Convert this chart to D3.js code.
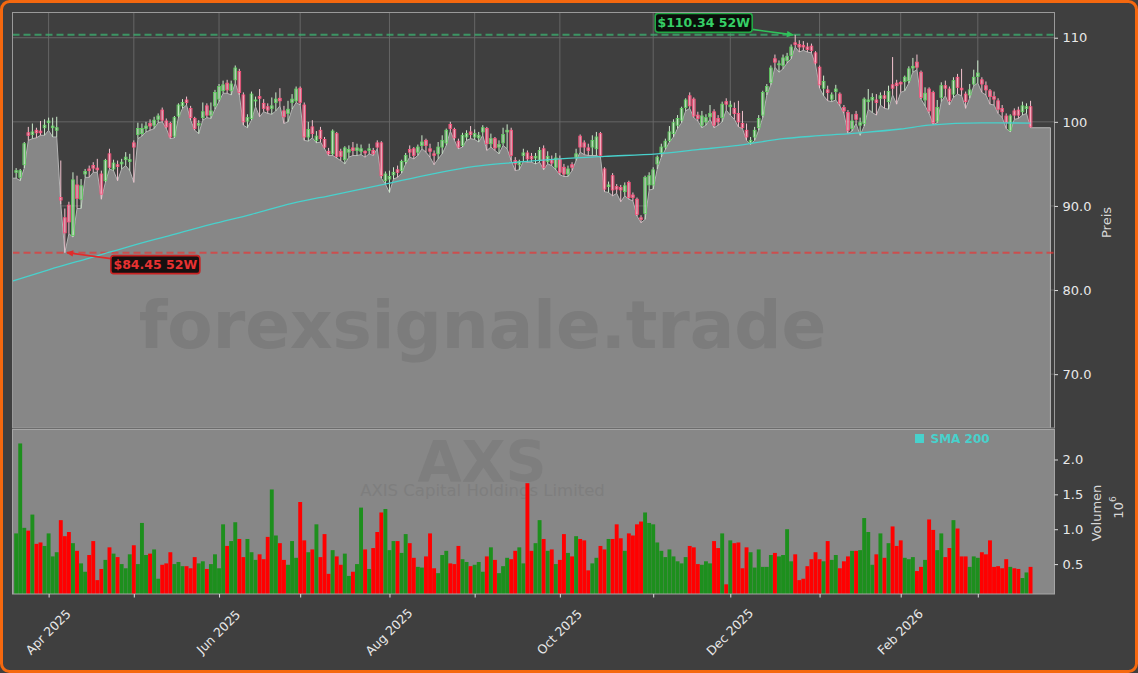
<!DOCTYPE html>
<html><head><meta charset="utf-8">
<script src="https://cdn.jsdelivr.net/npm/d3@7"></script>
<style>
html,body{margin:0;padding:0;background:#3f3f3f;}
svg{display:block;font-family:"DejaVu Sans",sans-serif;}
</style></head><body>
<svg id="chart" width="1138" height="673"></svg>
<script>
// ---------------- DATA ----------------
// trading-day index of first candle (0 = 1 Apr 2025)
const firstIdx = -8;
const opens = [
94.0,93.4,94.9,98.7,98.5,99.0,98.9,99.3,99.9,99.3,
99.0,91.0,88.6,90.1,86.5,92.5,90.8,93.8,94.4,94.8,
94.5,93.8,93.0,96.2,94.4,94.9,95.0,95.5,95.3,97.5,
98.5,98.6,99.2,99.8,99.6,100.3,101.4,100.1,99.8,98.3,
100.7,101.9,102.6,101.6,100.4,99.6,100.5,101.9,100.8,101.9,
102.7,103.7,104.6,103.7,105.0,106.0,103.2,100.1,100.4,102.5,
103.0,102.2,101.8,101.6,102.3,102.8,101.3,101.0,102.3,102.5,
104.0,102.0,98.2,99.4,97.8,99.0,97.9,96.5,96.2,98.6,
96.5,95.5,96.4,96.9,96.6,96.5,96.5,96.6,96.6,97.5,
97.5,93.0,93.2,93.7,94.3,94.2,95.3,96.7,96.8,96.4,
97.2,97.8,96.8,96.2,96.2,97.0,97.5,99.7,99.1,97.7,
97.2,98.2,98.8,98.2,98.1,98.8,99.2,97.4,98.0,97.0,
97.5,98.8,99.0,95.4,94.9,96.0,96.3,95.9,95.7,95.4,
96.8,95.3,95.5,94.6,95.6,94.6,93.8,94.9,95.8,98.3,
97.5,96.9,97.0,96.8,98.6,94.4,92.3,93.6,92.3,92.2,
91.7,92.8,91.3,90.8,88.6,89.1,92.5,92.5,95.0,96.3,
97.0,97.8,98.6,99.6,100.2,101.7,103.1,102.7,100.8,99.6,
100.0,100.6,101.2,100.4,100.5,102.4,101.8,101.6,101.0,99.8,
99.0,97.5,98.2,99.3,100.8,103.6,104.7,107.5,106.8,106.7,
107.3,107.9,109.4,109.2,109.1,108.9,109.0,108.2,106.5,104.0,
103.8,102.7,103.6,103.3,101.7,101.1,99.2,100.9,99.6,99.8,
102.4,102.6,102.6,102.8,103.1,102.4,104.4,104.6,104.7,104.8,
104.9,106.4,107.1,105.9,102.6,103.9,103.5,100.1,102.9,104.3,
103.9,103.3,105.3,104.0,103.3,103.2,104.5,105.4,105.0,104.3,
103.7,103.0,102.5,101.6,100.7,99.0,101.3,101.4,101.2,101.6,
101.8];
const highs = [
94.5,94.4,97.6,99.4,99.8,99.3,100.1,100.3,100.5,100.5,
100.6,95.4,89.7,90.5,94.0,93.6,93.2,94.4,94.8,95.2,
95.6,94.2,95.6,96.8,95.5,95.4,95.6,96.4,96.2,97.8,
99.9,99.8,100.0,100.3,100.6,101.0,101.7,100.4,100.0,100.7,
102.2,102.7,103.0,101.9,100.6,100.2,102.3,102.2,102.3,103.8,
104.5,104.9,105.0,104.9,106.7,106.3,103.5,100.9,103.6,103.0,
103.9,102.7,102.2,102.9,103.5,104.0,101.9,102.5,103.3,104.2,
104.2,102.3,100.0,100.2,98.9,99.4,98.2,96.9,99.1,98.8,
96.8,97.1,97.2,97.6,97.4,97.3,96.6,97.4,96.9,97.8,
97.7,94.1,94.2,94.6,94.8,95.5,96.3,97.2,97.0,97.3,
98.4,98.0,97.4,96.6,97.6,98.4,99.2,100.0,99.3,98.0,
98.7,99.0,99.5,99.1,98.8,99.6,99.4,98.6,98.2,97.8,
99.3,99.7,99.3,95.8,95.5,96.8,96.6,96.3,96.3,97.0,
97.2,96.5,96.0,96.3,96.0,95.0,94.8,95.2,96.8,98.5,
97.8,97.4,98.4,98.8,98.8,94.6,92.9,93.9,92.6,92.5,
92.8,93.0,91.6,91.0,88.9,93.6,94.0,94.6,96.0,97.4,
98.0,99.5,100.3,100.8,101.8,102.8,103.5,102.9,101.2,101.3,
100.9,102.0,101.5,100.8,102.4,102.8,102.5,102.3,102.5,101.3,
99.8,98.2,99.4,100.8,103.7,104.5,106.7,108.0,107.3,108.0,
108.2,109.2,110.34,109.7,109.6,109.4,109.3,108.4,106.7,105.5,
104.3,103.5,104.4,103.5,102.0,101.4,100.9,101.3,100.5,102.9,
103.9,103.4,103.3,103.5,103.7,104.3,107.7,105.0,104.8,105.5,
106.6,107.6,108.0,106.1,104.1,104.1,103.7,102.6,104.7,104.9,
104.2,105.3,105.7,106.3,103.6,104.5,106.2,107.3,105.3,104.8,
103.9,103.6,102.8,102.0,101.0,100.9,101.6,101.8,102.4,102.2,
102.5];
const lows = [
93.3,93.0,94.5,97.8,98.0,98.1,98.4,98.4,99.0,98.2,
98.2,90.2,84.45,86.7,86.3,89.7,89.7,93.4,93.4,94.0,
94.0,90.8,92.8,94.4,94.2,93.0,94.4,94.8,94.2,92.8,
98.0,98.3,98.8,99.0,99.2,99.9,100.0,99.2,98.0,98.1,
100.5,101.6,102.0,100.2,99.0,98.6,100.2,100.5,100.4,101.5,
102.4,103.4,103.4,103.2,104.6,103.2,99.6,99.3,100.2,101.8,
100.6,101.2,101.0,100.9,101.3,101.9,99.8,100.0,101.5,102.3,
102.0,97.8,97.7,98.1,97.5,97.6,96.8,96.0,96.0,95.7,
95.4,95.0,95.8,96.0,96.0,96.1,95.8,96.2,96.0,96.8,
93.3,92.6,91.6,93.2,93.4,93.9,95.0,95.8,95.6,96.0,
96.8,96.4,95.8,94.9,95.6,96.2,97.2,98.9,97.8,96.8,
97.0,97.8,98.0,97.9,97.6,98.4,96.6,97.0,96.6,96.2,
97.2,96.8,95.4,94.2,94.3,95.3,95.2,95.2,95.0,95.2,
94.3,95.0,94.8,94.3,93.7,93.5,93.5,94.2,95.4,96.4,
96.1,96.0,96.0,96.0,95.8,91.7,91.6,91.2,91.5,90.5,
91.2,90.8,90.6,88.8,88.0,88.4,91.9,92.0,94.4,95.8,
96.7,97.6,98.2,99.2,99.9,101.3,101.6,100.5,100.1,99.3,
99.6,100.3,99.3,99.6,100.0,101.4,100.8,100.3,99.4,99.2,
97.8,97.3,97.8,99.0,100.5,103.2,104.4,106.5,105.9,106.3,
107.0,107.5,108.9,108.3,108.5,108.3,108.2,106.8,104.0,103.1,
102.5,102.4,102.6,101.9,101.0,98.6,98.9,99.8,98.4,99.5,
101.5,101.1,100.8,102.0,101.6,101.5,103.2,102.1,103.5,103.7,
104.6,105.9,106.2,102.7,101.9,101.0,99.7,99.9,102.4,103.1,
102.0,102.9,103.3,103.1,101.6,102.8,104.3,104.6,103.5,103.2,
102.1,102.0,101.0,100.5,99.2,98.8,100.3,100.4,100.8,101.0,
99.3];
const closes = [
94.2,94.2,97.4,98.4,98.8,98.7,98.7,99.6,100.1,99.5,
99.3,90.7,86.8,88.1,93.1,90.9,92.4,94.1,94.2,94.5,
94.3,91.4,95.4,94.6,95.1,94.7,95.2,95.8,95.5,97.0,
99.2,99.2,99.5,99.5,100.2,100.7,100.2,99.4,98.2,100.5,
102.0,102.3,102.3,100.5,99.2,99.8,101.2,100.8,101.3,103.5,
104.2,104.4,103.8,104.5,106.4,103.5,100.0,100.5,103.3,102.6,
102.8,101.6,101.4,101.9,102.7,102.5,100.6,101.5,102.7,103.9,
102.3,98.2,99.1,98.6,98.3,98.0,97.0,96.2,98.9,95.9,
95.9,96.9,96.7,96.6,96.9,96.8,96.3,96.8,96.2,97.0,
93.6,93.8,93.5,94.0,94.0,95.3,96.0,96.4,96.0,97.0,
97.6,97.2,96.5,96.0,97.0,97.8,99.0,99.2,98.1,97.0,
98.4,98.6,98.5,98.6,98.4,99.3,97.4,98.0,96.9,97.3,
98.5,99.0,96.0,95.0,95.3,96.3,95.6,95.6,95.9,96.6,
94.6,95.9,95.1,95.7,94.0,93.8,94.4,94.6,96.2,97.0,
97.0,96.6,97.8,98.2,96.0,92.0,92.5,91.9,92.0,91.9,
92.4,91.0,91.0,89.0,88.4,93.4,93.6,94.3,95.8,97.0,
97.7,98.8,99.9,100.4,101.6,102.6,101.9,100.7,100.4,100.7,
100.5,101.0,99.6,100.0,102.1,102.1,102.0,101.0,100.0,99.3,
98.2,97.8,99.0,100.4,103.5,104.2,106.4,107.1,106.9,107.6,
107.8,108.9,109.2,108.9,108.9,108.6,108.5,107.0,104.4,104.8,
103.5,103.2,103.9,102.2,101.3,99.0,100.1,100.3,99.9,102.7,
102.6,102.9,102.3,103.1,102.8,103.6,104.0,104.3,104.5,105.3,
106.3,106.6,106.5,102.9,103.4,101.3,99.9,101.7,104.3,104.0,
102.5,104.9,104.1,103.8,102.4,103.8,105.3,105.8,104.5,103.8,
103.0,102.7,101.5,101.2,99.9,100.7,100.8,100.8,101.9,101.8,
99.4];
// volume in millions
const volumes = [
0.94,2.23,1.02,0.98,1.21,0.79,0.81,0.76,0.94,0.61,
0.67,1.13,0.90,0.96,0.80,0.69,0.51,0.39,0.63,0.83,
0.27,0.43,0.56,0.74,0.65,0.60,0.50,0.44,0.64,0.77,
0.50,1.09,0.63,0.65,0.71,0.29,0.49,0.51,0.67,0.50,
0.53,0.47,0.47,0.44,0.60,0.51,0.54,0.43,0.50,0.64,
0.44,1.07,0.76,0.83,1.10,0.86,0.60,0.86,0.67,0.56,
0.64,0.57,0.89,1.57,0.91,0.80,0.56,0.49,0.83,0.59,
1.39,0.84,0.67,0.71,1.07,0.60,0.93,0.36,0.70,0.61,
0.49,0.65,0.33,0.39,0.50,1.31,0.71,0.43,0.73,0.96,
1.24,1.29,0.70,0.83,0.83,0.66,0.93,0.80,0.59,0.46,
0.45,0.61,0.94,0.44,0.37,0.63,0.69,0.51,0.50,0.76,
0.57,0.53,0.47,0.49,0.53,0.39,0.61,0.74,0.56,0.37,
0.47,0.59,0.57,0.69,0.74,0.51,1.66,0.69,0.80,1.13,
0.86,0.69,0.71,0.50,0.56,0.93,0.66,0.61,0.90,0.86,
0.84,0.41,0.51,0.59,0.76,0.71,0.86,0.86,1.07,0.87,
0.69,0.94,0.91,1.07,1.11,1.24,1.09,1.07,0.81,0.69,
0.60,0.71,0.61,0.54,0.51,0.60,0.76,0.74,0.50,0.49,
0.54,0.51,0.83,0.73,0.94,0.21,0.84,0.80,0.81,0.44,
0.74,0.67,0.45,0.71,0.46,0.46,0.63,0.66,0.61,0.63,
1.00,0.54,0.64,0.27,0.29,0.47,0.57,0.67,0.57,0.54,
0.83,0.56,0.63,0.44,0.54,0.61,0.69,0.69,0.70,1.16,
0.96,0.49,0.64,0.94,0.59,0.80,1.04,0.76,0.84,0.59,
0.57,0.60,0.40,0.46,0.56,1.14,0.99,0.70,0.94,0.60,
0.73,1.13,1.01,0.61,0.61,0.46,0.61,0.59,0.67,0.64,
0.84,0.46,0.47,0.44,0.57,0.46,0.44,0.43,0.30,0.38,
0.46];
// SMA 200 read at sample days
const smaIdx = [-9,0,10,15,20,30,40,50,60,70,82,95,105,113,126,137,150,160,170,181,190,200,210,217,230,242];
const smaVal = [81.05,82.4,83.8,84.5,85.2,86.5,87.8,89.0,90.3,91.3,92.5,93.85,94.7,95.1,95.6,95.9,96.2,96.7,97.2,98.0,98.35,98.7,99.15,99.6,99.88,99.85];
// axis ticks
const monthTickIdx = [0,21,42,62,84,105,126,149,168,190,210,229];
const monthTickLabels = ["Apr 2025","","Jun 2025","","Aug 2025","","Oct 2025","","Dec 2025","","Feb 2026",""];
const priceTicks = [70,80,90,100,110];
const priceTickLabels = ["70.0","80.0","90.0","100","110"];
const volTicks = [0.5,1.0,1.5,2.0];
const volTickLabels = ["0.5","1.0","1.5","2.0"];
const ticker = "AXS";
const company = "AXIS Capital Holdings Limited";
const watermark = "forexsignale.trade";
const legendLabel = "SMA 200";

// ---------------- LAYOUT ----------------
const px0 = 12.5, px1 = 1054.5, py0 = 12.5, py1 = 428, vy0 = 429.5, vy1 = 594;
const bg = "#3f3f3f", panelGray = "#878787";

const data = opens.map((o,i)=>({k:firstIdx+i,o,h:highs[i],l:lows[i],c:closes[i],v:volumes[i]}));
const lastK = data[data.length-1].k;

const x = d3.scaleLinear().domain([-8.9, 247.9]).range([px0, px1]);
const yP = d3.scaleLinear().domain([63.6, 113.0]).range([py1, py0]);
const yV = d3.scaleLinear().domain([0.071, 2.43]).range([vy1, vy0]);
const step = x(1)-x(0);

const svg = d3.select("#chart");
const defs = svg.append("defs");
defs.append("clipPath").attr("id","clipP").append("rect")
  .attr("x",px0).attr("y",py0).attr("width",px1-px0).attr("height",py1-py0);
defs.append("clipPath").attr("id","clipV").append("rect")
  .attr("x",px0).attr("y",vy0).attr("width",px1-px0).attr("height",vy1-vy0);
function marker(id,color){
  defs.append("marker").attr("id",id).attr("viewBox","0 0 10 10")
    .attr("refX",9).attr("refY",5).attr("markerWidth",8).attr("markerHeight",7)
    .attr("markerUnits","userSpaceOnUse").attr("orient","auto")
    .append("path").attr("d","M0,0.5L10,5L0,9.5Z").attr("fill",color);
}
marker("arrG","#2fc25a");
marker("arrR","#e22b2b");

// outer frame
svg.append("rect").attr("x",1.5).attr("y",1.5).attr("width",1135).attr("height",670)
  .attr("rx",8).attr("fill",bg).attr("stroke","#f5680f").attr("stroke-width",3);

// ---------- PRICE PANEL ----------
const gP = svg.append("g").attr("clip-path","url(#clipP)");
gP.selectAll("line.hg").data(priceTicks).join("line")
  .attr("x1",px0).attr("x2",px1).attr("y1",d=>yP(d)).attr("y2",d=>yP(d))
  .attr("stroke","#6a6a6a").attr("stroke-width",0.9);
gP.selectAll("line.vg").data(monthTickIdx).join("line")
  .attr("x1",d=>x(d)).attr("x2",d=>x(d)).attr("y1",py0).attr("y2",py1)
  .attr("stroke","#6a6a6a").attr("stroke-width",0.9);

// area under lows
const areaEndK = lastK + 4.9;
const areaPts = [{k:x.domain()[0], l:data[0].l}, ...data, {k:areaEndK, l:data[data.length-1].l}];
gP.append("path").datum(areaPts)
  .attr("d", d3.area().x(d=>x(d.k)).y0(py1).y1(d=>yP(d.l)))
  .attr("fill", panelGray);
gP.append("path")
  .attr("d", d3.line().x(d=>x(d.k)).y(d=>yP(d.l))(areaPts) + `L${x(areaEndK)},${py1}`)
  .attr("fill","none").attr("stroke","#b4b4b4").attr("stroke-width",1);

// watermark
gP.append("text").attr("x",(px0+px1)/2 - 51).attr("y",348)
  .attr("text-anchor","middle").attr("font-size",66).attr("font-weight","bold")
  .attr("fill","#7c7c7c").text(watermark);

// 52W lines
const hiD = data.reduce((a,b)=>b.h>a.h?b:a);
const loD = data.reduce((a,b)=>b.l<a.l?b:a);
gP.append("line").attr("x1",px0).attr("x2",px1).attr("y1",yP(hiD.h)).attr("y2",yP(hiD.h))
  .attr("stroke","#3cb371").attr("stroke-opacity",0.75).attr("stroke-width",2).attr("stroke-dasharray","7,4");
gP.append("line").attr("x1",px0).attr("x2",px1).attr("y1",yP(loD.l)).attr("y2",yP(loD.l))
  .attr("stroke","#f03030").attr("stroke-opacity",0.65).attr("stroke-width",2).attr("stroke-dasharray","7,4");

// candles
const bw = step*0.68;
const cg = gP.append("g");
cg.selectAll("line.w").data(data).join("line")
  .attr("x1",d=>x(d.k)).attr("x2",d=>x(d.k)).attr("y1",d=>yP(d.h)).attr("y2",d=>yP(d.l))
  .attr("stroke",d=>d.c>=d.o?"#cdeccd":"#f3c3cf").attr("stroke-width",1);
cg.selectAll("rect.b").data(data).join("rect")
  .attr("x",d=>x(d.k)-bw/2).attr("width",bw)
  .attr("y",d=>yP(Math.max(d.o,d.c)))
  .attr("height",d=>Math.max(1,Math.abs(yP(d.o)-yP(d.c))))
  .attr("fill",d=>d.c>=d.o?"rgba(190,235,190,0.45)":"rgba(255,160,185,0.55)")
  .attr("stroke",d=>d.c>=d.o?"#5fd35f":"#ff4f7b").attr("stroke-width",0.8);

// SMA line
gP.append("path")
  .attr("d", d3.line().curve(d3.curveMonotoneX).x((d,i)=>x(smaIdx[i])).y(d=>yP(d))(smaVal))
  .attr("fill","none").attr("stroke","#48d1cc").attr("stroke-width",1.3);

// annotations
const hx = x(hiD.k), hy = yP(hiD.h);
const hiBox = {x: hx-140, y: hy-21.5, w: 97, h: 19};
svg.append("line").attr("x1",hiBox.x+hiBox.w).attr("y1",hiBox.y+16).attr("x2",hx-2).attr("y2",hy)
  .attr("stroke","#2fc25a").attr("stroke-width",1.6).attr("marker-end","url(#arrG)");
svg.append("rect").attr("x",hiBox.x).attr("y",hiBox.y).attr("width",hiBox.w).attr("height",hiBox.h)
  .attr("rx",3).attr("fill","#0b0f0b").attr("stroke","#22a845").attr("stroke-width",1.6);
svg.append("text").attr("x",hiBox.x+hiBox.w/2).attr("y",hiBox.y+14)
  .attr("text-anchor","middle").attr("font-size",12.5).attr("font-weight","bold")
  .attr("fill","#36cf66").text("$"+hiD.h.toFixed(2)+" 52W");

const lx = x(loD.k), ly = yP(loD.l);
const loBox = {x: lx+46, y: ly+3, w: 89, h: 18};
svg.append("line").attr("x1",loBox.x).attr("y1",loBox.y+3).attr("x2",lx+2).attr("y2",ly)
  .attr("stroke","#e22b2b").attr("stroke-width",1.6).attr("marker-end","url(#arrR)");
svg.append("rect").attr("x",loBox.x).attr("y",loBox.y).attr("width",loBox.w).attr("height",loBox.h)
  .attr("rx",3).attr("fill","#161010").attr("stroke","#c92222").attr("stroke-width",1.6);
svg.append("text").attr("x",loBox.x+loBox.w/2).attr("y",loBox.y+13.5)
  .attr("text-anchor","middle").attr("font-size",12.5).attr("font-weight","bold")
  .attr("fill","#e83232").text("$"+loD.l.toFixed(2)+" 52W");

svg.append("rect").attr("x",px0).attr("y",py0).attr("width",px1-px0).attr("height",py1-py0)
  .attr("fill","none").attr("stroke","#9a9a9a").attr("stroke-width",1);

// ---------- VOLUME PANEL ----------
svg.append("rect").attr("x",px0).attr("y",vy0).attr("width",px1-px0).attr("height",vy1-vy0)
  .attr("fill",panelGray);
const gV = svg.append("g").attr("clip-path","url(#clipV)");
gV.append("text").attr("x",482).attr("y",482).attr("text-anchor","middle")
  .attr("font-size",57).attr("font-weight","bold").attr("fill","#7e7e7e").text(ticker);
gV.append("text").attr("x",482.5).attr("y",496).attr("text-anchor","middle")
  .attr("font-size",16.5).attr("fill","#7e7e7e").text(company);
const vbw = step*0.96;
gV.selectAll("rect.v").data(data).join("rect")
  .attr("x",d=>x(d.k)-vbw/2).attr("width",vbw)
  .attr("y",d=>yV(d.v)).attr("height",d=>vy1-yV(d.v))
  .attr("fill",d=>d.c>=d.o?"#1d8f1d":"#ff0000");
// legend
svg.append("rect").attr("x",915).attr("y",434).attr("width",9).attr("height",9).attr("fill","#48d1cc");
svg.append("text").attr("x",930.5).attr("y",442.5).attr("font-size",12).attr("font-weight","bold")
  .attr("fill","#48d1cc").text(legendLabel);
svg.append("rect").attr("x",px0).attr("y",vy0).attr("width",px1-px0).attr("height",vy1-vy0)
  .attr("fill","none").attr("stroke","#a6a6a6").attr("stroke-width",1);

// ---------- AXES ----------
function styleAxis(g, fs){
  g.select(".domain").remove();
  g.selectAll(".tick line").attr("stroke","#dddddd");
  g.selectAll(".tick text").attr("fill","#e8e8e8").attr("font-size",fs).attr("font-family","DejaVu Sans");
}
const axP = svg.append("g").attr("transform",`translate(${px1},0)`)
  .call(d3.axisRight(yP).tickValues(priceTicks).tickFormat((d,i)=>priceTickLabels[i]).tickSize(3.5).tickPadding(4.5));
styleAxis(axP, 13);
const axV = svg.append("g").attr("transform",`translate(${px1},0)`)
  .call(d3.axisRight(yV).tickValues(volTicks).tickFormat((d,i)=>volTickLabels[i]).tickSize(3.5).tickPadding(4.5));
styleAxis(axV, 13);
const axX = svg.append("g").attr("transform",`translate(0,${vy1})`)
  .call(d3.axisBottom(x).tickValues(monthTickIdx).tickFormat((d,i)=>monthTickLabels[i]).tickSize(3.5));
styleAxis(axX, 12.5);
axX.selectAll(".tick text").attr("y",0).attr("dy","0.35em").attr("text-anchor","middle")
  .attr("transform","translate(-1,38) rotate(-45)");

// axis titles
svg.append("text").attr("transform","translate(1106.5,222.5) rotate(-90)")
  .attr("text-anchor","middle").attr("dominant-baseline","central")
  .attr("font-size",13).attr("fill","#d8d8d8").text("Preis");
svg.append("text").attr("transform","translate(1096.5,513) rotate(-90)")
  .attr("text-anchor","middle").attr("dominant-baseline","central")
  .attr("font-size",13).attr("fill","#d8d8d8").text("Volumen");
const t6 = svg.append("text").attr("transform","translate(1117.5,507.5) rotate(-90)")
  .attr("text-anchor","middle").attr("dominant-baseline","central")
  .attr("font-size",13).attr("fill","#d8d8d8");
t6.append("tspan").text("10");
t6.append("tspan").attr("font-size",9).attr("dy",-5).text("6");
</script>
</body></html>
